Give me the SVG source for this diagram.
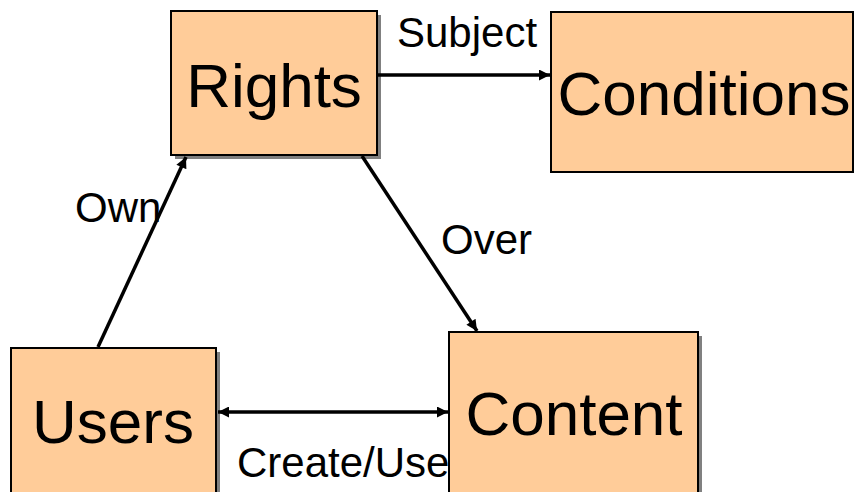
<svg xmlns="http://www.w3.org/2000/svg" width="856" height="492" viewBox="0 0 856 492">
  <style>
    .box { fill: #FFCC99; stroke: #000; stroke-width: 2; }
    .shadow { fill: #808080; }
    .node-text { font-family: "Liberation Sans", Arial, sans-serif; font-size: 62px; fill: #000; }
    .label { font-family: "Liberation Sans", Arial, sans-serif; font-size: 42px; fill: #000; }
    .edge { stroke: #000; stroke-width: 3.5; fill: none; }
  </style>
  <defs>
    <marker id="arrow" viewBox="0 0 10 10" refX="10" refY="5" markerWidth="15" markerHeight="11" markerUnits="userSpaceOnUse" orient="auto-start-reverse">
      <path d="M0,0 L10,5 L0,10 z" fill="#000"/>
    </marker>
  </defs>
  <rect width="856" height="492" fill="#fff"/>

  <g id="rights">
    <rect class="shadow" x="175" y="15" width="206" height="144"/>
    <rect class="box" x="171" y="11" width="206" height="144"/>
    <text class="node-text" x="274" y="107" text-anchor="middle">Rights</text>
  </g>

  <g id="conditions">
    <rect class="box" x="551" y="12" width="302" height="160"/>
    <text class="node-text" x="704" y="115" text-anchor="middle">Conditions</text>
  </g>

  <g id="users">
    <rect class="shadow" x="15" y="352" width="205" height="150"/>
    <rect class="box" x="11" y="348" width="205" height="150"/>
    <text class="node-text" x="113" y="443" text-anchor="middle">Users</text>
  </g>

  <g id="content">
    <rect class="shadow" x="453" y="336" width="249" height="166"/>
    <rect class="box" x="449" y="332" width="249" height="166"/>
    <text class="node-text" x="574" y="435" text-anchor="middle">Content</text>
  </g>

  <g id="connectors">
    <line class="edge" x1="378" y1="75" x2="550" y2="75" marker-end="url(#arrow)"/>
    <line class="edge" x1="362" y1="156" x2="477" y2="331" marker-end="url(#arrow)"/>
    <line class="edge" x1="98" y1="347" x2="186" y2="157" marker-end="url(#arrow)"/>
    <line class="edge" x1="218" y1="412" x2="448" y2="412" marker-start="url(#arrow)" marker-end="url(#arrow)"/>
  </g>

  <g id="labels">
    <text class="label" x="397" y="47">Subject</text>
    <text class="label" x="75" y="222">Own</text>
    <text class="label" x="441" y="254">Over</text>
    <text class="label" x="237" y="477">Create/Use</text>
  </g>
</svg>
